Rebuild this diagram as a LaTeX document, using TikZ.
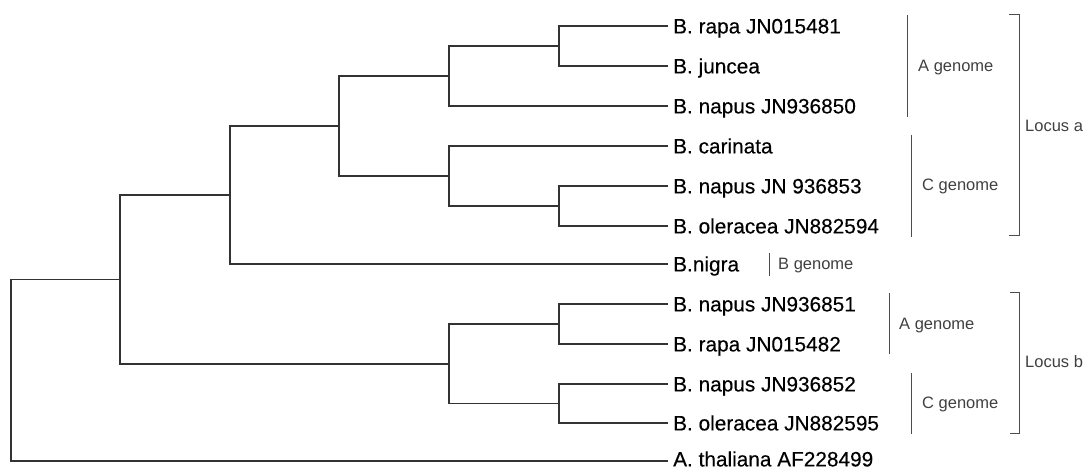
\documentclass[tikz,border=0pt]{standalone}
\usepackage{fontspec}
\setmainfont{Liberation Sans}
\newfontfamily\leaffont[FakeBold=0.3]{Liberation Sans}
\usepackage{tikz}

\begin{document}
\begin{tikzpicture}[
  x=1pt, y=-1pt,
  branch/.style={draw=black!80, line width=1.2pt},
  bar/.style={draw=black!70, line width=1pt},
  leaf/.style={anchor=base west, inner sep=0pt, xshift=5pt, yshift=-7.4pt,
               font=\leaffont\fontsize{20.8}{24}\selectfont},
  grp/.style={anchor=base west, inner sep=0pt, yshift=-5.9pt,
              text=black!75, font=\fontsize{16.5}{20}\selectfont}
]
  \useasboundingbox (0,0) rectangle (1089,470);

  \coordinate (ra1) at (668,26);
  \coordinate (ju)  at (668,66);
  \coordinate (na1) at (668,106);
  \coordinate (ca)  at (668,146);
  \coordinate (na2) at (668,186);
  \coordinate (ol1) at (668,226);
  \coordinate (ni)  at (668,264);
  \coordinate (na3) at (668,304);
  \coordinate (ra2) at (668,344);
  \coordinate (na4) at (668,384);
  \coordinate (ol2) at (668,423);
  \coordinate (th)  at (668,461);

  \node[leaf] (ra1-l) at (ra1) {B. rapa JN015481};
  \node[leaf] (ju-l)  at (ju)  {B. juncea};
  \node[leaf] (na1-l) at (na1) {B. napus JN936850};
  \node[leaf] (ca-l)  at (ca)  {B. carinata};
  \node[leaf] (na2-l) at (na2) {B. napus JN 936853};
  \node[leaf] (ol1-l) at (ol1) {B. oleracea JN882594};
  \node[leaf] (ni-l)  at (ni)  {B.nigra};
  \node[leaf] (na3-l) at (na3) {B. napus JN936851};
  \node[leaf] (ra2-l) at (ra2) {B. rapa JN015482};
  \node[leaf] (na4-l) at (na4) {B. napus JN936852};
  \node[leaf] (ol2-l) at (ol2) {B. oleracea JN882595};
  \node[leaf, yshift=2pt] (th-l) at (th) {A. thaliana AF228499};

  \coordinate (j1)  at (559,46);
  \coordinate (j2)  at (449,76);
  \coordinate (j3)  at (559,206);
  \coordinate (j4)  at (449,176);
  \coordinate (j5)  at (339,126);
  \coordinate (j6)  at (230,195);
  \coordinate (j7)  at (559,324);
  \coordinate (j8)  at (559,403.5);
  \coordinate (j9)  at (449,364);
  \coordinate (j10) at (120,279.5);
  \coordinate (j0)  at (11,370);

  \draw[branch] (j0) |- (j10) (j0) |- (th);
  \draw[branch] (j10) |- (j6) (j10) |- (j9);
  \draw[branch] (j6) |- (j5) (j6) |- (ni);
  \draw[branch] (j5) |- (j2) (j5) |- (j4);
  \draw[branch] (j2) |- (j1) (j2) |- (na1);
  \draw[branch] (j1) |- (ra1) (j1) |- (ju);
  \draw[branch] (j4) |- (ca) (j4) |- (j3);
  \draw[branch] (j3) |- (na2) (j3) |- (ol1);
  \draw[branch] (j9) |- (j7) (j9) |- (j8);
  \draw[branch] (j7) |- (na3) (j7) |- (ra2);
  \draw[branch] (j8) |- (na4) (j8) |- (ol2);

  \draw[bar] (907,15) -- (907,117);
  \node[grp] (ga1) at (918,66) {A genome};
  \draw[bar] (911,135) -- (911,237);
  \node[grp] (gc1) at (922,185) {C genome};
  \draw[bar] (769,253) -- (769,276);
  \node[grp] (gb) at (778,264) {B genome};
  \draw[bar] (889,293) -- (889,354);
  \node[grp] (ga2) at (899,324) {A genome};
  \draw[bar] (911,373) -- (911,434);
  \node[grp] (gc2) at (922,403) {C genome};

  \draw[bar] (1009,15) -- (1019,15) -- (1019,236) -- (1009,236);
  \node[grp] (loa) at (1025,126) {Locus a};
  \draw[bar] (1010,292) -- (1019,292) -- (1019,433) -- (1010,433);
  \node[grp] (lob) at (1025,362) {Locus b};
\end{tikzpicture}
\end{document}
